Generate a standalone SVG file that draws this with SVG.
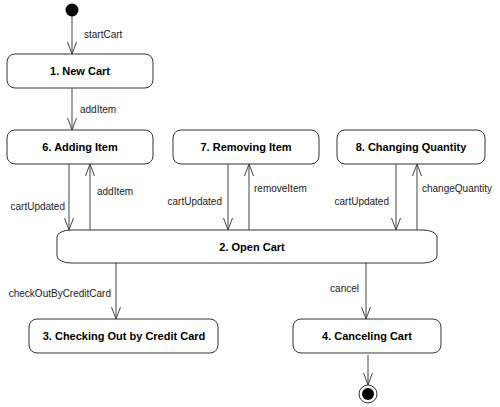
<svg xmlns="http://www.w3.org/2000/svg" width="500" height="407" viewBox="0 0 500 407">
<style>
.st{fill:#fff;stroke:#333;stroke-width:1}
.t{font-family:"Liberation Sans",Arial,sans-serif;font-weight:bold;font-size:11px;text-anchor:middle;fill:#000}
.l{font-family:"Liberation Sans",Arial,sans-serif;font-size:10px;fill:#222}
.c{stroke:#444;stroke-width:1;fill:none;marker-end:url(#a)}
</style>
<defs>
<marker id="a" viewBox="0 0 13 12" refX="12" refY="5" markerWidth="13" markerHeight="12" markerUnits="userSpaceOnUse" orient="auto" overflow="visible">
<path d="M0,0.5 L12,5 L0,9.5" fill="none" stroke="#444" stroke-width="1"/>
</marker>
</defs>
<g id="connectors">
<path class="c" d="M72,16 V54"/>
<path class="c" d="M72,88 V130"/>
<path class="c" d="M69,164 V230"/>
<path class="c" d="M90,230 V164"/>
<path class="c" d="M228,164 V230"/>
<path class="c" d="M249,230 V164"/>
<path class="c" d="M396,164 V230"/>
<path class="c" d="M417,230 V164"/>
<path class="c" d="M116,263 V319"/>
<path class="c" d="M366,263 V319"/>
<path class="c" d="M368,355 V385"/>
<text class="l" x="84" y="38">startCart</text>
<text class="l" x="80" y="113">addItem</text>
<text class="l" x="65" y="210" text-anchor="end">cartUpdated</text>
<text class="l" x="97" y="195">addItem</text>
<text class="l" x="222" y="205" text-anchor="end">cartUpdated</text>
<text class="l" x="254" y="192">removeItem</text>
<text class="l" x="389" y="205" text-anchor="end">cartUpdated</text>
<text class="l" x="422" y="192">changeQuantity</text>
<text class="l" x="111" y="297" text-anchor="end">checkOutByCreditCard</text>
<text class="l" x="359" y="292" text-anchor="end">cancel</text>
</g>
<g id="initial"><circle cx="72" cy="10" r="6.5" fill="#000"/></g>
<g id="n1"><rect class="st" x="7" y="54" width="146" height="34" rx="8"/><text class="t" x="80" y="75">1.  New Cart</text></g>
<g id="n6"><rect class="st" x="7" y="130" width="146" height="34" rx="8"/><text class="t" x="80" y="151">6.  Adding Item</text></g>
<g id="n7"><rect class="st" x="173" y="130" width="146" height="34" rx="8"/><text class="t" x="246" y="151">7.  Removing Item</text></g>
<g id="n8"><rect class="st" x="337" y="130" width="148" height="34" rx="8"/><text class="t" x="411" y="151">8.  Changing Quantity</text></g>
<g id="n2"><rect class="st" x="57" y="230" width="380" height="33" rx="14" ry="7"/><text class="t" x="252" y="251">2.  Open Cart</text></g>
<g id="n3"><rect class="st" x="29" y="319" width="189" height="34" rx="8"/><text class="t" x="124" y="340">3.  Checking Out by Credit Card</text></g>
<g id="n4"><rect class="st" x="293" y="319" width="148" height="34" rx="8"/><text class="t" x="367" y="340">4.  Canceling Cart</text></g>
<g id="final"><circle cx="368" cy="394" r="9" fill="#fff" stroke="#333" stroke-width="1"/><circle cx="368" cy="394" r="6" fill="#000"/></g>
</svg>
